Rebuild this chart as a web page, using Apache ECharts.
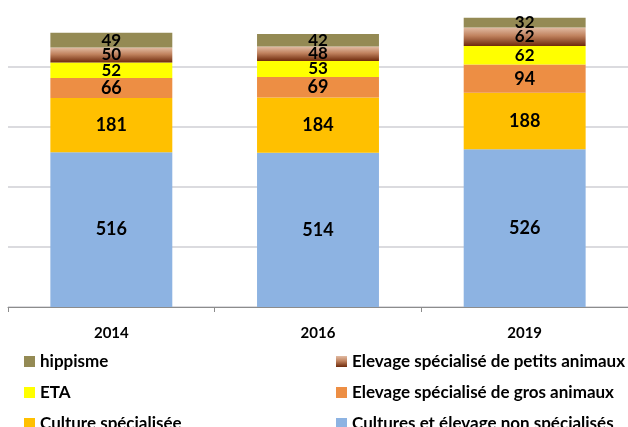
<!DOCTYPE html>
<html>
<head>
<meta charset="utf-8">
<script src="https://cdn.jsdelivr.net/npm/echarts@6/dist/echarts.min.js"></script>
<style>
  html, body { margin: 0; padding: 0; background: #fff; }
  #chart { width: 628px; height: 427px; }
</style>
</head>
<body>
<div id="chart"></div>
<script>
// years on the x axis
var years = ['2014', '2016', '2019'];

// stacked from bottom to top
var nonSpecialises = [516, 514, 526];
var cultureSpe = [181, 184, 188];
var grosAnimaux = [66, 69, 94];
var eta = [52, 53, 62];
var petitsAnimaux = [50, 48, 62];
var hippisme = [49, 42, 32];

var names = {
  nonSpe: 'Cultures et élevage non spécialisés',
  cultSpe: 'Culture spécialisée',
  gros: 'Elevage spécialisé de gros animaux',
  eta: 'ETA',
  petits: 'Elevage spécialisé de petits animaux',
  hipp: 'hippisme'
};

var font = 'Lato, "Noto Sans", sans-serif';

var petitsGradient = new echarts.graphic.LinearGradient(0, 0, 0, 1, [
  { offset: 0, color: '#e2bca4' },
  { offset: 0.45, color: '#c0825e' },
  { offset: 1, color: '#6e2a0c' }
]);

function mkSeries(name, data, color, size) {
  return {
    name: name,
    type: 'bar',
    stack: 'total',
    barWidth: '59%',
    data: data,
    itemStyle: { color: color },
    label: {
      show: true,
      position: 'inside',
      color: '#000',
      fontFamily: font,
      fontWeight: 'bold',
      fontSize: size
    }
  };
}

function mkLegend(left, data) {
  return {
    orient: 'vertical',
    left: left,
    top: 353,
    height: 120,
    padding: 0,
    itemWidth: 11,
    itemHeight: 11,
    itemGap: 14,
    icon: 'rect',
    textStyle: { color: '#000', fontWeight: 'bold', fontSize: 17, lineHeight: 16, fontFamily: font },
    data: data
  };
}

var chart = echarts.init(document.getElementById('chart'));
chart.setOption({
  animation: false,
  textStyle: { fontFamily: font },
  grid: { left: 8, right: -4, top: 7, bottom: 120 },
  xAxis: {
    type: 'category',
    data: years,
    axisLine: { lineStyle: { color: '#8c8c8c', width: 1 } },
    axisTick: { show: true, length: 5, lineStyle: { color: '#8c8c8c' } },
    axisLabel: { color: '#000', fontWeight: 'bold', fontSize: 15, fontFamily: font, margin: 19 }
  },
  yAxis: {
    type: 'value',
    min: 0,
    max: 1000,
    interval: 200,
    axisLabel: { show: false },
    axisLine: { show: false },
    axisTick: { show: false },
    splitLine: {
      lineStyle: {
        color: ['#cfcfd4', '#cfcfd4', '#cfcfd4', '#cfcfd4', '#cfcfd4', 'rgba(0,0,0,0)'],
        width: 1.5
      }
    }
  },
  legend: [
    mkLegend(24, [names.hipp, names.eta, names.cultSpe]),
    mkLegend(336, [names.petits, names.gros, names.nonSpe])
  ],
  series: [
    mkSeries(names.nonSpe, nonSpecialises, '#8db3e2', 18),
    mkSeries(names.cultSpe, cultureSpe, '#ffc000', 18),
    mkSeries(names.gros, grosAnimaux, '#ed8e44', 18),
    mkSeries(names.eta, eta, '#ffff00', 17),
    mkSeries(names.petits, petitsAnimaux, petitsGradient, 17),
    mkSeries(names.hipp, hippisme, '#948a54', 17)
  ]
});
</script>
</body>
</html>
